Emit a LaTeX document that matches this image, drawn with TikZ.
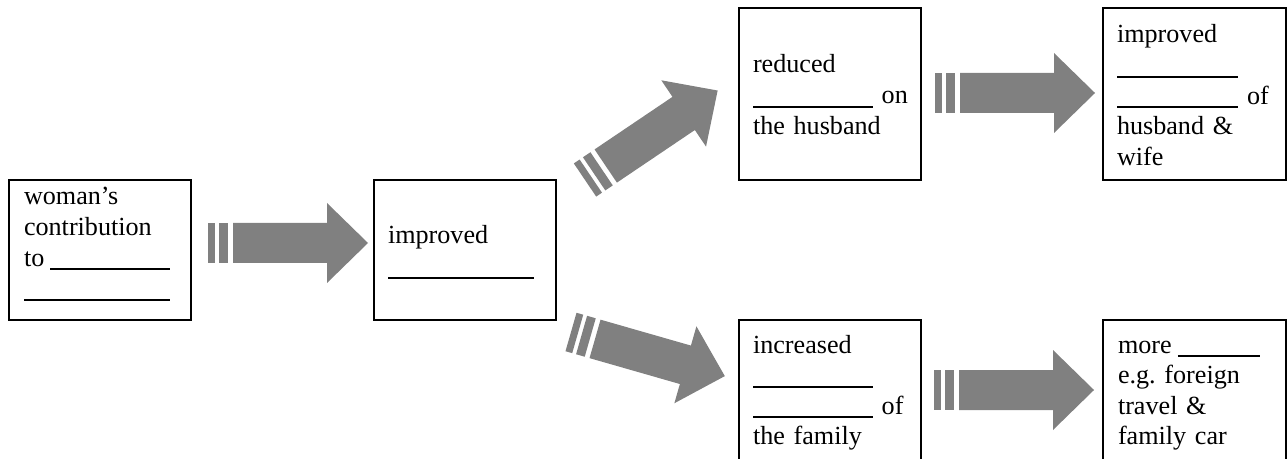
\documentclass[tikz,border=0pt]{standalone}
\usepackage{fontspec}
\setmainfont{Liberation Serif}
\usetikzlibrary{calc}
\definecolor{arrowgray}{RGB}{128,128,128}
% a blank to be filled in, drawn as a rule just under the baseline
\newcommand\fillin[1]{\rule[-3.2pt]{#1}{1.5pt}}
\frenchspacing

\begin{document}
\begin{tikzpicture}[x=0.75pt,y=-0.75pt,
  box/.style={draw=black, line width=1.5pt, rectangle, inner sep=0pt, outer sep=0pt},
  smallbox/.style={box, minimum width=136.5pt, minimum height=105pt},
  tallbox/.style={box, minimum width=136.5pt, minimum height=129pt},
  lowbox/.style={box, minimum width=136.5pt, minimum height=106.5pt},
  txt/.style={anchor=base west, inner sep=0pt, outer sep=0pt, text width=125pt,
    align=left, font=\fontsize{19.6pt}{22.9pt}\selectfont},
  blockarrow/.pic={
    \fill[arrowgray] (0,-20) rectangle (7,20);
    \fill[arrowgray] (11,-20) rectangle (20,20);
    \fill[arrowgray] (25,-20) -- (119,-20) -- (119,-40) -- (160,0)
      -- (119,40) -- (119,20) -- (25,20) -- cycle;
  }
]
\useasboundingbox (0,0) rectangle (1287,459);
\clip (0,0) rectangle (1287,459);

% boxes
\node[smallbox] (contrib)   at (100,250)   {};
\node[smallbox] (improved)  at (465,250)   {};
\node[tallbox]  (reduced)   at (830,94)    {};
\node[tallbox, minimum width=137.25pt]  (relation) at (1194.5,94) {};
\node[lowbox]   (increased) at (830,391)   {};
\node[lowbox, minimum width=137.25pt]   (more)     at (1194.5,391) {};

% texts
\node[txt] (contribT) at ([shift={(15,25)}]contrib.north west)
  {woman’s\\contribution\\to\hspace{4.6pt}\fillin{90pt}\\\fillin{109.5pt}};
\node[txt] (improvedT) at ([shift={(14,64)}]improved.north west)
  {improved\\\fillin{109.5pt}};
\node[txt] (reducedT) at ([shift={(14,65)}]reduced.north west)
  {reduced\\\fillin{90pt} on\\the husband};
\node[txt] (relationT) at ([shift={(14,35)}]relation.north west)
  {improved\\\fillin{91pt}\\\fillin{91pt} of\\husband \&\\wife};
\node[txt] (increasedT) at ([shift={(14,33)}]increased.north west)
  {increased\\\fillin{90pt}\\\fillin{90pt} of\\the family};
\node[txt] (moreT) at ([shift={(15,33)}]more.north west)
  {more\hspace{4.6pt}\fillin{61.5pt}\\e.g. foreign\\travel \&\\family car};

% block arrows between the boxes
\pic at ($(contrib.east)+(17,-7)$) {blockarrow};
\pic[rotate=34] at ($(improved.east)+(29,-70)$) {blockarrow};
\pic[rotate=-16] at ($(improved.east)+(15,82)$) {blockarrow};
\pic at ($(reduced.east)+(14,-1)$) {blockarrow};
\pic at ($(increased.east)+(13,-1)$) {blockarrow};
\end{tikzpicture}
\end{document}
